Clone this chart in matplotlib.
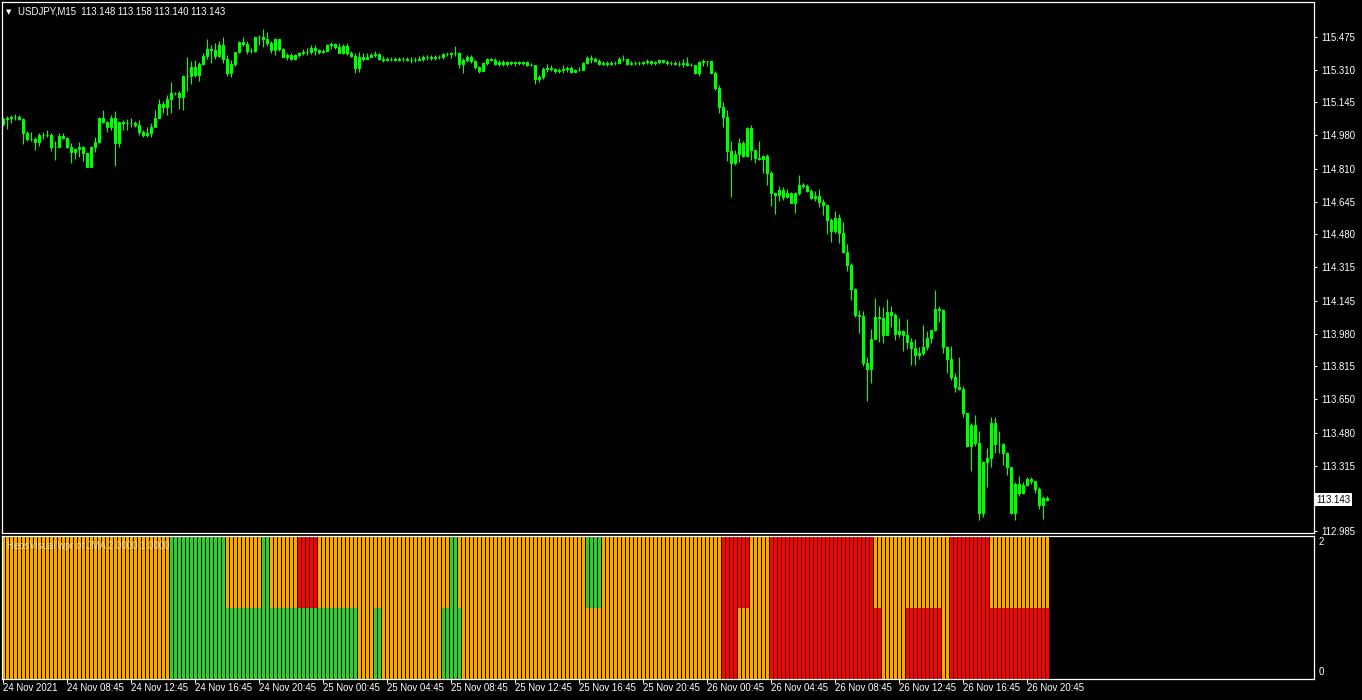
import matplotlib
matplotlib.use("Agg")
import matplotlib.pyplot as plt
import matplotlib.transforms as mtransforms
import numpy as np

# USDJPY M15 candles, 24 Nov 2021 04:45 -> 26 Nov 2021 21:30
first_open = 115.037
closes = [
    115.060, 115.066, 115.070, 115.070, 115.063, 114.989, 114.959, 114.963, 114.946, 114.979,
    114.981, 114.983, 114.919, 114.922, 114.975, 114.966, 114.919, 114.895, 114.909, 114.919,
    114.890, 114.821, 114.920, 114.946, 115.065, 115.047, 115.023, 115.068, 114.939, 115.047,
    115.043, 115.043, 115.043, 115.030, 114.996, 114.983, 114.993, 115.020, 115.068, 115.139,
    115.120, 115.161, 115.193, 115.194, 115.171, 115.277, 115.278, 115.321, 115.285, 115.337,
    115.379, 115.416, 115.410, 115.379, 115.433, 115.362, 115.292, 115.339, 115.398, 115.448,
    115.440, 115.406, 115.403, 115.473, 115.477, 115.463, 115.443, 115.410, 115.463, 115.413,
    115.376, 115.383, 115.362, 115.384, 115.393, 115.399, 115.401, 115.421, 115.410, 115.398,
    115.406, 115.433, 115.438, 115.423, 115.396, 115.430, 115.393, 115.381, 115.317, 115.374,
    115.366, 115.376, 115.383, 115.389, 115.362, 115.361, 115.364, 115.366, 115.359, 115.362,
    115.366, 115.361, 115.359, 115.359, 115.366, 115.376, 115.373, 115.368, 115.373, 115.376,
    115.391, 115.388, 115.393, 115.396, 115.337, 115.357, 115.376, 115.352, 115.322, 115.305,
    115.342, 115.364, 115.361, 115.339, 115.351, 115.339, 115.349, 115.346, 115.347, 115.344,
    115.347, 115.331, 115.334, 115.265, 115.272, 115.315, 115.319, 115.312, 115.305, 115.307,
    115.312, 115.319, 115.300, 115.307, 115.310, 115.342, 115.371, 115.363, 115.356, 115.341,
    115.342, 115.339, 115.342, 115.346, 115.366, 115.366, 115.341, 115.342, 115.346, 115.344,
    115.347, 115.352, 115.346, 115.347, 115.357, 115.351, 115.342, 115.342, 115.341, 115.339,
    115.342, 115.334, 115.336, 115.292, 115.351, 115.356, 115.352, 115.295, 115.220, 115.120,
    115.071, 114.899, 114.842, 114.886, 114.939, 114.876, 115.015, 114.903, 114.864, 114.859,
    114.876, 114.788, 114.687, 114.678, 114.704, 114.666, 114.687, 114.640, 114.687, 114.729,
    114.724, 114.700, 114.661, 114.675, 114.645, 114.626, 114.552, 114.498, 114.561, 114.485,
    114.391, 114.324, 114.203, 114.072, 114.069, 113.830, 113.800, 113.951, 114.066, 114.056,
    113.972, 114.087, 114.076, 113.978, 113.992, 113.972, 113.936, 113.906, 113.872, 113.881,
    113.911, 113.956, 113.998, 114.103, 114.098, 113.911, 113.851, 113.763, 113.709, 113.701,
    113.578, 113.414, 113.520, 113.431, 113.074, 113.335, 113.352, 113.528, 113.424, 113.424,
    113.377, 113.306, 113.078, 113.222, 113.178, 113.217, 113.246, 113.236, 113.195, 113.115,
    113.152, 113.143,
]
highs = [
    115.073, 115.077, 115.082, 115.087, 115.080, 115.065, 115.001, 114.994, 114.969, 114.989,
    114.996, 115.006, 114.989, 114.951, 114.989, 114.993, 114.973, 114.939, 114.916, 114.946,
    114.926, 114.892, 114.926, 114.973, 115.073, 115.107, 115.053, 115.082, 115.104, 115.053,
    115.057, 115.060, 115.067, 115.053, 115.057, 115.006, 115.023, 115.040, 115.107, 115.161,
    115.151, 115.181, 115.248, 115.199, 115.201, 115.283, 115.372, 115.356, 115.359, 115.351,
    115.393, 115.465, 115.435, 115.443, 115.452, 115.477, 115.384, 115.359, 115.401, 115.456,
    115.473, 115.452, 115.420, 115.477, 115.485, 115.514, 115.498, 115.452, 115.468, 115.467,
    115.420, 115.396, 115.393, 115.389, 115.399, 115.413, 115.420, 115.433, 115.436, 115.413,
    115.416, 115.440, 115.450, 115.446, 115.443, 115.440, 115.446, 115.406, 115.396, 115.399,
    115.393, 115.393, 115.396, 115.403, 115.396, 115.379, 115.376, 115.376, 115.376, 115.376,
    115.376, 115.372, 115.372, 115.376, 115.379, 115.384, 115.384, 115.383, 115.383, 115.386,
    115.396, 115.399, 115.401, 115.430, 115.399, 115.368, 115.383, 115.383, 115.359, 115.326,
    115.349, 115.369, 115.368, 115.368, 115.359, 115.359, 115.356, 115.356, 115.356, 115.352,
    115.356, 115.352, 115.342, 115.336, 115.284, 115.322, 115.339, 115.332, 115.319, 115.319,
    115.332, 115.326, 115.326, 115.315, 115.322, 115.349, 115.379, 115.384, 115.373, 115.363,
    115.352, 115.352, 115.352, 115.356, 115.373, 115.384, 115.366, 115.352, 115.356, 115.356,
    115.356, 115.366, 115.356, 115.356, 115.363, 115.359, 115.359, 115.352, 115.352, 115.356,
    115.363, 115.373, 115.346, 115.295, 115.356, 115.366, 115.356, 115.356, 115.302, 115.233,
    115.149, 115.107, 114.951, 114.906, 114.968, 114.953, 115.020, 115.032, 114.909, 114.953,
    114.879, 114.885, 114.801, 114.684, 114.726, 114.721, 114.707, 114.695, 114.695, 114.779,
    114.741, 114.734, 114.707, 114.697, 114.709, 114.657, 114.633, 114.561, 114.600, 114.583,
    114.544, 114.432, 114.334, 114.212, 114.099, 114.096, 113.861, 114.002, 114.160, 114.119,
    114.113, 114.155, 114.119, 114.082, 114.057, 113.998, 114.052, 113.956, 113.951, 113.911,
    114.023, 113.993, 113.998, 114.200, 114.119, 114.102, 113.918, 113.918, 113.783, 113.861,
    113.716, 113.582, 113.531, 113.570, 113.491, 113.340, 113.402, 113.562, 113.562, 113.488,
    113.427, 113.385, 113.310, 113.234, 113.262, 113.232, 113.256, 113.256, 113.239, 113.209,
    113.162, 113.162,
]
lows = [
    115.027, 115.013, 115.040, 115.057, 115.057, 114.936, 114.953, 114.953, 114.905, 114.925,
    114.963, 114.973, 114.902, 114.855, 114.919, 114.959, 114.914, 114.842, 114.862, 114.872,
    114.848, 114.818, 114.818, 114.895, 114.939, 115.040, 114.996, 115.006, 114.825, 114.922,
    115.006, 115.006, 115.023, 115.023, 114.979, 114.973, 114.973, 114.973, 115.020, 115.067,
    115.090, 115.082, 115.094, 115.183, 115.114, 115.107, 115.205, 115.238, 115.272, 115.255,
    115.334, 115.362, 115.346, 115.362, 115.372, 115.342, 115.278, 115.272, 115.329, 115.393,
    115.430, 115.389, 115.393, 115.401, 115.435, 115.426, 115.430, 115.393, 115.386, 115.406,
    115.372, 115.359, 115.359, 115.359, 115.376, 115.386, 115.386, 115.389, 115.386, 115.389,
    115.393, 115.403, 115.416, 115.416, 115.393, 115.389, 115.386, 115.376, 115.292, 115.300,
    115.352, 115.362, 115.372, 115.376, 115.359, 115.349, 115.352, 115.356, 115.352, 115.352,
    115.356, 115.352, 115.346, 115.349, 115.356, 115.356, 115.359, 115.359, 115.359, 115.363,
    115.363, 115.379, 115.368, 115.379, 115.317, 115.295, 115.349, 115.346, 115.312, 115.295,
    115.305, 115.336, 115.356, 115.334, 115.329, 115.326, 115.329, 115.336, 115.329, 115.332,
    115.336, 115.326, 115.326, 115.237, 115.250, 115.262, 115.299, 115.302, 115.295, 115.295,
    115.292, 115.299, 115.295, 115.300, 115.305, 115.309, 115.339, 115.342, 115.349, 115.332,
    115.336, 115.329, 115.332, 115.332, 115.339, 115.356, 115.332, 115.332, 115.336, 115.336,
    115.336, 115.339, 115.336, 115.336, 115.339, 115.342, 115.336, 115.332, 115.332, 115.329,
    115.322, 115.329, 115.329, 115.289, 115.279, 115.326, 115.326, 115.292, 115.208, 115.094,
    115.023, 114.852, 114.670, 114.828, 114.847, 114.869, 114.872, 114.855, 114.838, 114.855,
    114.791, 114.731, 114.625, 114.581, 114.650, 114.653, 114.662, 114.637, 114.590, 114.679,
    114.716, 114.695, 114.657, 114.650, 114.620, 114.580, 114.480, 114.443, 114.489, 114.438,
    114.388, 114.297, 114.149, 114.066, 113.985, 113.817, 113.642, 113.733, 113.951, 113.939,
    113.934, 113.981, 114.015, 113.948, 113.965, 113.894, 113.904, 113.822, 113.822, 113.851,
    113.874, 113.897, 113.934, 113.995, 114.040, 113.881, 113.780, 113.746, 113.687, 113.696,
    113.562, 113.410, 113.289, 113.414, 113.041, 113.058, 113.209, 113.310, 113.377, 113.377,
    113.318, 113.268, 113.071, 113.041, 113.162, 113.172, 113.212, 113.222, 113.175, 113.098,
    113.048, 113.138,
]

# indicator histogram: (colour, number of bars) runs for the 0-1 and 1-2 halves
upper_runs = [("o", 42), ("g", 14), ("o", 9), ("g", 2), ("o", 7), ("r", 5), ("o", 33),
              ("g", 2), ("o", 32), ("g", 4), ("o", 30), ("r", 7), ("o", 5), ("r", 26),
              ("o", 19), ("r", 10), ("o", 15)]
lower_runs = [("o", 42), ("g", 47), ("o", 4), ("g", 2), ("o", 15), ("g", 5), ("o", 65),
              ("r", 4), ("o", 8), ("r", 28), ("o", 6), ("r", 9), ("o", 2), ("r", 25)]

price_ticks = [115.475, 115.310, 115.145, 114.980, 114.810, 114.645, 114.480, 114.315,
               114.145, 113.980, 113.815, 113.650, 113.480, 113.315, 112.985]
time_bars = [0, 16, 32, 48, 64, 80, 96, 112, 128, 144, 160, 176, 192, 208, 224, 240, 256]
time_labels = ["24 Nov 2021", "24 Nov 08:45", "24 Nov 12:45", "24 Nov 16:45", "24 Nov 20:45",
               "25 Nov 00:45", "25 Nov 04:45", "25 Nov 08:45", "25 Nov 12:45", "25 Nov 16:45",
               "25 Nov 20:45", "26 Nov 00:45", "26 Nov 04:45", "26 Nov 08:45", "26 Nov 12:45",
               "26 Nov 16:45", "26 Nov 20:45"]
last_price = 113.143
title = "USDJPY,M15  113.148 113.158 113.140 113.143"
ind_title = "HeosVisual wpr of JMA 2.0000 1.0000"

LIME = "#00FF00"
COLS = {"o": "#FFA500", "g": "#32CD32", "r": "#FF0000"}
FONT = "Liberation Sans"
FS = 6.9

W, H = 1362, 700
fig = plt.figure(figsize=(W / 100, H / 100), dpi=100, facecolor="black")
ax = fig.add_axes([2 / W, 1 - 533 / H, 1312 / W, 531 / H], facecolor="black")
ax2 = fig.add_axes([2 / W, 1 - 679 / H, 1312 / W, 143 / H], facecolor="black")

xlim = (-0.325, -0.325 + 1312 / 4)

# candles
closes = np.array(closes)
opens = np.concatenate([[first_open], closes[:-1]])
hi = np.maximum(np.array(highs), np.maximum(opens, closes))
lo = np.minimum(np.array(lows), np.minimum(opens, closes))
x = np.arange(len(closes))
up = closes >= opens
ax.vlines(x, lo, hi, color=LIME, lw=0.8)
ax.bar(x, np.abs(closes - opens), bottom=np.minimum(opens, closes), width=0.55,
       color=np.where(up, "black", "white"), edgecolor=LIME, linewidth=0.8)

ax.set_xlim(*xlim)
ax.set_ylim(112.975, 115.651)
ax.set_xticks([])
ax.yaxis.tick_right()
ax.set_yticks(price_ticks)
ax.set_yticklabels([f"{p:.3f}" for p in price_ticks], fontsize=FS, family=FONT)
ax.tick_params(axis="y", colors="white", length=2.5, width=0.75, pad=3)

blend = mtransforms.blended_transform_factory(ax.transAxes, ax.transData)
ax.text(1 + 2 / 1312, last_price, "113.143", transform=blend, ha="left", va="center",
        fontsize=FS, family=FONT, color="black",
        bbox=dict(boxstyle="square,pad=0.15", fc="white", ec="none"))
ax.text(4 / 1312, 1 - 10 / 531, "\u25BC", transform=ax.transAxes, ha="left", va="center",
        fontsize=5, color="white", family="DejaVu Sans")
ax.text(16 / 1312, 1 - 10 / 531, title, transform=ax.transAxes, ha="left", va="center",
        fontsize=FS, family=FONT, color="white")

# indicator
def expand(runs):
    out = []
    for c, n in runs:
        out += [COLS[c]] * n
    return out

ix = np.arange(len(expand(lower_runs)))
ax2.bar(ix, 1, bottom=0, width=0.75, color=expand(lower_runs), linewidth=0)
ax2.bar(ix, 1, bottom=1, width=0.75, color=expand(upper_runs), linewidth=0)
ax2.set_xlim(*xlim)
ax2.set_ylim(0, 2)
ax2.set_yticks([])
ax2.set_xticks(time_bars)
ax2.set_xticklabels([])
ax2.tick_params(axis="x", colors="white", length=3, width=0.75, direction="out")
ax2.text(5 / 1312, 1 - 10 / 143, ind_title, transform=ax2.transAxes, ha="left", va="center",
         fontsize=FS, family=FONT, color="#F0F0F0", alpha=0.75)
ax2.text(1 + 5 / 1312, 1 - 6 / 143, "2", transform=ax2.transAxes, ha="left", va="center",
         fontsize=FS, family=FONT, color="white")
ax2.text(1 + 5 / 1312, 7 / 143, "0", transform=ax2.transAxes, ha="left", va="center",
         fontsize=FS, family=FONT, color="white")

tblend = mtransforms.blended_transform_factory(ax2.transData, ax2.transAxes)
for b, lab in zip(time_bars, time_labels):
    ax2.text(b - 0.1, -9 / 143, lab, transform=tblend, ha="left", va="center",
             fontsize=FS, family=FONT, color="white")

for a in (ax, ax2):
    for s in a.spines.values():
        s.set_color("white")
        s.set_linewidth(0.9)

fig.savefig("out.png", dpi=100, facecolor="black")
